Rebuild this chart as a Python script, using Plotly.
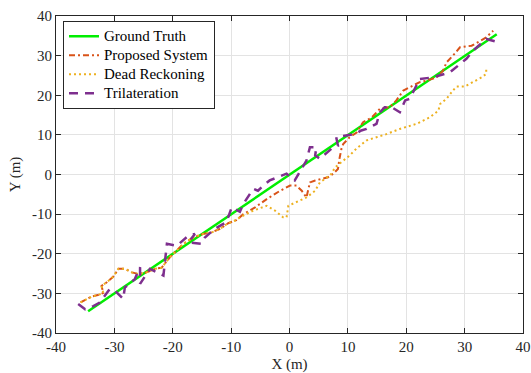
import plotly.graph_objects as go

# Ground truth
gt_x = [-34.5, 35.5]
gt_y = [-34.5, 35.4]

# Proposed system
ps_x = [-35.8, -35.0, -33.9, -32.6, -31.9, -32.2, -31.3, -30.2, -29.3, -28.2, -27.0, -25.9, -24.5, -23.0,
        -21.9, -20.5, -19.3, -18.2, -16.5, -14.8, -13.3, -11.9, -10.5, -9.1, -7.9, -5.9, -3.9, -1.6, 0.1,
        1.2, 2.1, 2.9, 3.5, 4.4, 5.5, 6.6, 7.5, 8.3, 8.6, 8.9, 9.2, 10.3, 11.5, 12.6, 14.1, 15.5, 17.2,
        18.3, 19.5, 20.6, 22.3, 23.5, 25.2, 26.3, 26.9, 28.3, 29.2, 31.2, 32.6, 33.7, 34.6, 34.9]
ps_y = [-32.3, -31.7, -30.8, -30.3, -29.9, -28.1, -27.2, -25.8, -23.8, -23.8, -24.7, -25.1, -24.7, -23.8,
        -23.5, -20.9, -19.2, -17.5, -15.9, -15.0, -14.6, -13.7, -12.3, -11.5, -10.0, -8.3, -6.2, -4.1, -2.8,
        -2.8, -4.1, -5.8, -2.0, -1.5, -1.1, -0.7, 0.2, 1.4, 4.3, 6.5, 7.7, 9.4, 10.6, 13.2, 14.4, 16.6, 17.0,
        18.7, 21.2, 22.0, 23.3, 23.7, 24.5, 26.2, 28.3, 30.5, 32.1, 32.5, 33.8, 34.6, 35.9, 36.3]

# Dead reckoning
dr_x = [-35.8, -35.0, -33.9, -32.6, -31.9, -32.2, -31.3, -30.2, -29.3, -28.2, -27.0, -25.9, -24.5, -23.0,
        -21.9, -20.5, -19.3, -18.2, -16.5, -14.8, -13.3, -11.9, -10.5, -9.1, -8.5, -6.2, -3.9, -2.5, -1.1,
        -0.5, -0.2, 1.2, 2.9, 4.4, 5.2, 6.1, 7.2, 7.8, 9.2, 10.3, 11.5, 13.2, 14.9, 16.6, 18.9, 21.8, 24.0,
        25.5, 25.8, 26.9, 28.0, 28.6, 30.0, 31.5, 32.9, 33.7, 33.7]
dr_y = [-32.3, -31.7, -30.8, -30.3, -29.9, -28.1, -27.2, -25.8, -23.8, -23.8, -24.7, -25.1, -24.7, -23.8,
        -23.5, -20.9, -19.2, -17.5, -15.9, -15.0, -14.6, -13.7, -12.3, -11.5, -10.8, -9.1, -7.9, -9.1, -10.8,
        -10.8, -7.9, -7.0, -5.8, -4.1, -2.0, -1.1, 0.2, 1.8, 3.5, 4.8, 6.6, 8.6, 9.4, 10.2, 11.5, 12.8, 14.4,
        16.1, 17.8, 19.1, 21.2, 22.2, 22.2, 23.3, 24.5, 25.4, 26.7]

# Trilateration
tr_x = [-36.2, -35.0, -33.6, -32.5, -30.8, -29.9, -28.5, -28.2, -26.5, -25.6, -25.6, -23.9, -21.6, -21.0,
        -19.3, -17.3, -16.2, -17.3, -15.1, -14.5, -12.8, -10.8, -9.9, -8.5, -7.9, -6.2, -5.4, -4.5, -3.4,
        -1.4, -0.5, 0.9, 2.9, 3.5, 4.6, 4.4, 5.2, 7.5, 8.3, 8.0, 10.0, 11.2, 12.3, 13.2, 14.9, 15.5, 16.3,
        17.5, 18.9, 19.8, 20.6, 22.3, 24.5, 27.5, 30.3, 31.5, 33.7, 34.9, 35.7]
tr_y = [-32.7, -34.0, -33.2, -32.3, -28.9, -29.3, -31.4, -28.5, -26.4, -23.4, -27.6, -23.8, -25.5, -17.5,
        -18.0, -15.4, -15.0, -17.1, -17.5, -15.9, -13.7, -12.0, -8.3, -9.4, -7.4, -3.6, -4.1, -2.8, -1.5,
        -0.3, 0.2, -1.5, 3.5, 6.9, 6.9, 4.8, 4.0, 6.9, 7.3, 9.4, 9.8, 10.2, 11.1, 11.5, 12.8, 15.7, 17.0,
        17.0, 15.7, 18.7, 19.1, 24.1, 24.5, 25.8, 29.2, 31.3, 34.2, 33.8, 33.4]

x_ticks = [-40, -30, -20, -10, 0, 10, 20, 30, 40]
y_ticks = [-40, -30, -20, -10, 0, 10, 20, 30, 40]

FONT = "Liberation Serif"
TXT = "#262626"


def leg(name):
    return '<span style="font-size:15px">' + name + '</span>'


fig = go.Figure()
fig.add_trace(go.Scatter(x=gt_x, y=gt_y, mode="lines", name=leg("Ground Truth"),
                         line=dict(color="#00ee00", width=2.5)))
fig.add_trace(go.Scatter(x=ps_x, y=ps_y, mode="lines", name=leg("Proposed System"),
                         line=dict(color="#D95319", width=2, dash="6px,3px,2px,3px")))
fig.add_trace(go.Scatter(x=dr_x, y=dr_y, mode="lines", name=leg("Dead Reckoning"),
                         line=dict(color="#EDB120", width=2, dash="2px,3px")))
fig.add_trace(go.Scatter(x=tr_x, y=tr_y, mode="lines", name=leg("Trilateration"),
                         line=dict(color="#7E2F8E", width=2.5, dash="9px,7px")))

axis_common = dict(
    showgrid=True, gridcolor="#e3e3e3", gridwidth=1,
    showline=True, linecolor=TXT, linewidth=1, mirror="ticks",
    ticks="inside", ticklen=5, tickcolor=TXT, tickwidth=1,
    zeroline=False, tickfont=dict(family=FONT, size=15, color=TXT),
    automargin=False, ticklabeloverflow="allow",
)

fig.update_layout(
    width=531, height=373,
    margin=dict(l=56, r=8, t=16, b=40),
    paper_bgcolor="white", plot_bgcolor="white",
    font=dict(family=FONT, size=15, color=TXT),
    xaxis=dict(range=[-40, 40], tickvals=x_ticks, ticktext=[str(v) for v in x_ticks],
               title=dict(text="X (m)", font=dict(family=FONT, size=15, color=TXT), standoff=8),
               **axis_common),
    yaxis=dict(range=[-40, 40], tickvals=y_ticks, ticktext=[str(v) for v in y_ticks],
               title=dict(text="Y (m)", font=dict(family=FONT, size=15, color=TXT), standoff=7),
               **axis_common),
    legend=dict(x=0.015, y=0.985, xanchor="left", yanchor="top",
                bgcolor="white", bordercolor=TXT, borderwidth=1,
                font=dict(family=FONT, size=12, color="#000000"),
                tracegroupgap=0, itemwidth=30),
    showlegend=True,
)

fig.write_html(
    "out.html",
    config={"displayModeBar": False},
    post_script="document.body.style.margin='0';document.body.style.overflow='hidden';",
)
